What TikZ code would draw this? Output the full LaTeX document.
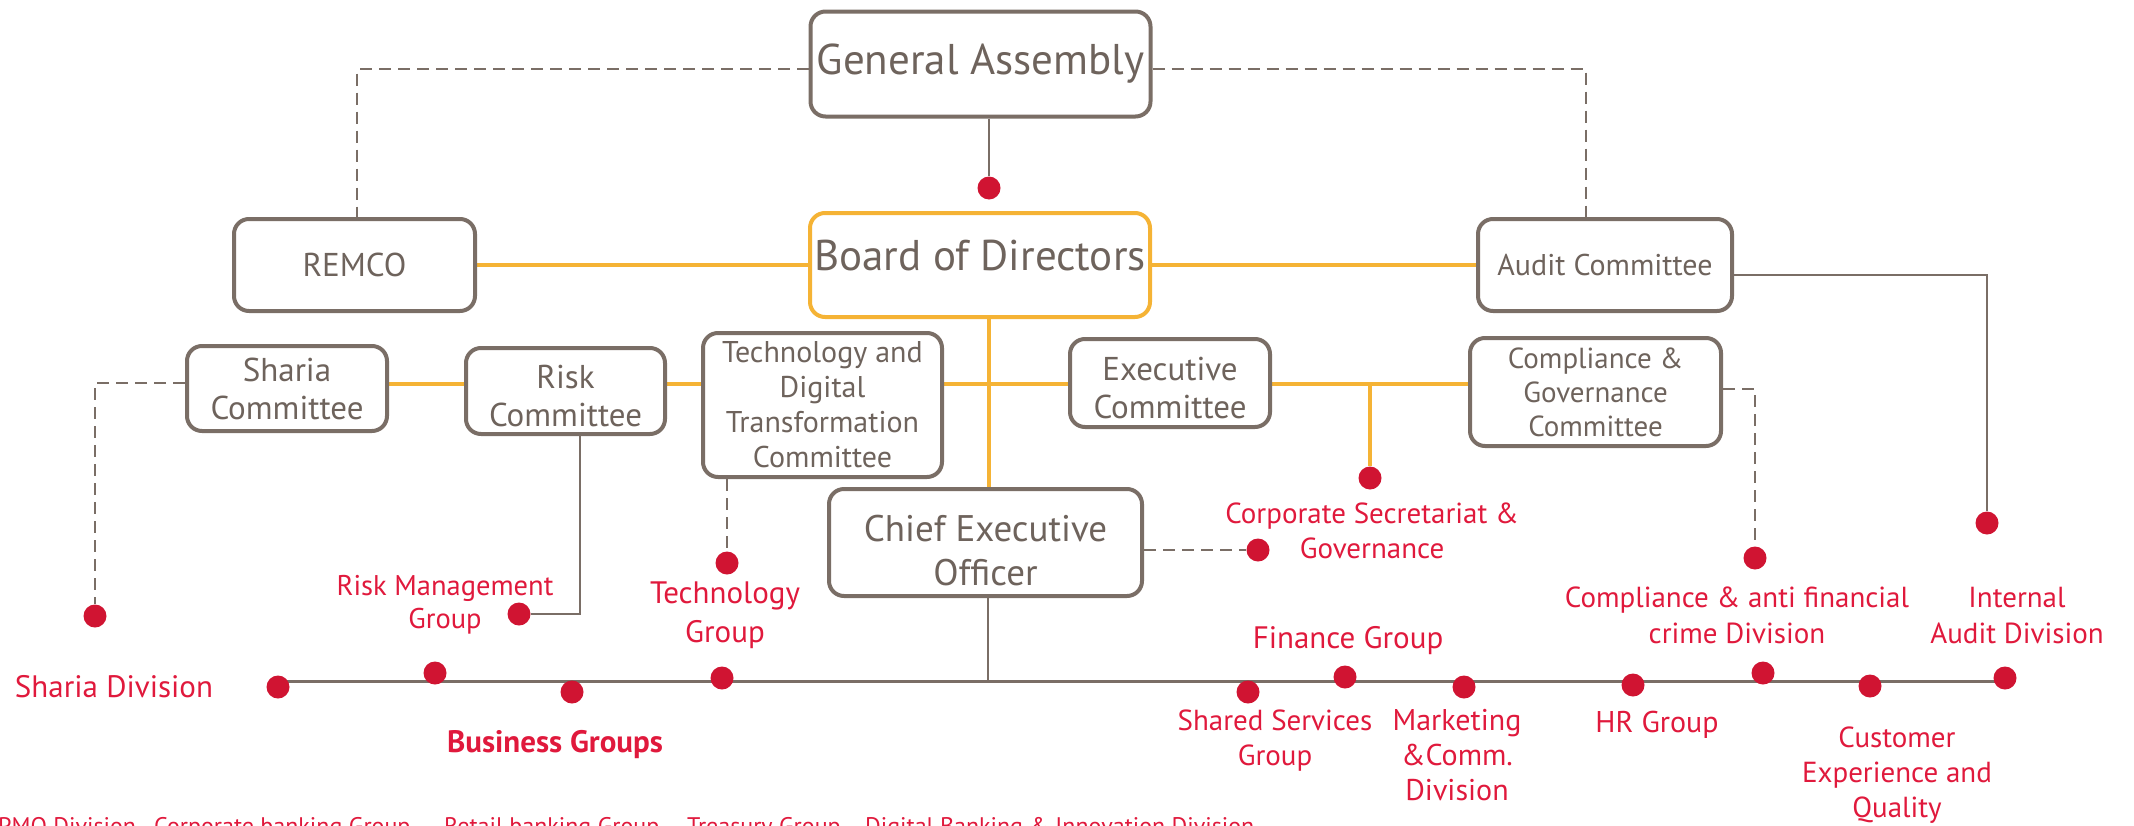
\documentclass[tikz,border=0pt]{standalone}
\usepackage{fontspec}
\setmainfont{PT Sans}
\definecolor{boxgray}{HTML}{7A6E66}
\definecolor{txtgray}{HTML}{6E635C}
\definecolor{orng}{HTML}{F5B335}
\definecolor{dotred}{HTML}{D01432}
\definecolor{lblred}{HTML}{E0193C}
\newcommand\myfs[2]{\fontsize{#1}{#2}\selectfont}
\pgfdeclarelayer{bg}
\pgfsetlayers{bg,main}
\begin{document}
\begin{tikzpicture}[x=1pt,y=-1pt,
  box/.style={draw=boxgray, fill=white, line width=4pt, rounded corners=15pt, inner sep=0pt, align=center, text=txtgray},
  obox/.style={box, draw=orng},
  dot/.style={circle, fill=dotred, inner sep=0pt, minimum size=23pt},
  lbl/.style={text=lblred, align=center, inner sep=0pt, anchor=base},
  oline/.style={draw=orng, line width=4pt},
  gline/.style={draw=boxgray, line width=2pt},
  dline/.style={draw=boxgray, line width=2.5pt, dash pattern=on 12pt off 7pt},
  mline/.style={draw=boxgray, line width=3pt},
]
\useasboundingbox (0,0) rectangle (2134,825);

% boxes
\node[box, minimum width=340pt, minimum height=105pt, font=\myfs{43}{48}] (GA) at (980.5,64) {General Assembly};
\node[obox, minimum width=340pt, minimum height=104pt, font=\myfs{43}{48}] (BoD) at (980,265) {Board of Directors\rule[-20pt]{0pt}{20pt}};
\node[box, minimum width=241pt, minimum height=92pt, font=\myfs{33}{38}] (REMCO) at (354.5,265) {REMCO};
\node[box, minimum width=254pt, minimum height=92pt, font=\myfs{30}{36}] (Audit) at (1605,265) {Audit Committee};
\node[box, minimum width=200pt, minimum height=85pt, font=\myfs{33}{38}] (Sharia) at (287,388.5) {Sharia\\Committee};
\node[box, minimum width=199pt, minimum height=86pt, font=\myfs{33}{38}] (Risk) at (565.5,391) {\rule{0pt}{33pt}Risk\\Committee};
\node[box, minimum width=239pt, minimum height=144pt, font=\myfs{30}{35}] (Tech) at (822.5,405) {Technology and\\Digital\\Transformation\\Committee};
\node[box, minimum width=200pt, minimum height=88pt, font=\myfs{33}{38}] (Exec) at (1170,383) {\rule{0pt}{33pt}Executive\\Committee};
\node[box, minimum width=251pt, minimum height=108pt, font=\myfs{29}{34}] (CG) at (1595.5,392) {Compliance \&\\Governance\\Committee};
\node[box, minimum width=313pt, minimum height=107pt, font=\myfs{37}{44}] (CEO) at (985.5,542.5) {\rule{0pt}{42pt}Chief Executive\\Officer};

% dots
\node[dot] (d0) at (989,188) {};
\node[dot] (dCS) at (1370,478) {};
\node[dot] (dSD) at (95,616) {};
\node[dot] (dRM) at (519,614) {};
\node[dot] (dTG) at (727,563) {};
\node[dot] (dCEO) at (1258,550) {};
\node[dot] (dCA) at (1755,558) {};
\node[dot] (dIA) at (1987,523) {};
\node[dot] (l1) at (278,687) {};
\node[dot] (l2) at (435,673) {};
\node[dot] (l3) at (572,692) {};
\node[dot] (l4) at (722,678) {};
\node[dot] (l5) at (1248,692) {};
\node[dot] (l6) at (1345,677) {};
\node[dot] (l7) at (1464,687) {};
\node[dot] (l8) at (1633,685) {};
\node[dot] (l9) at (1763,673) {};
\node[dot] (l10) at (1870,686) {};
\node[dot] (l11) at (2005,678) {};

\coordinate (hy) at (0,384);
\coordinate (mL) at (278,681);
\coordinate (mR) at (2005,681);
\coordinate (cs) at (1370,384);

\begin{pgfonlayer}{bg}
% dashed from General Assembly
\draw[dline] ([yshift=-5pt]GA.west) -| ([xshift=2.5pt]REMCO.north);
\draw[dline] ([yshift=-5pt]GA.east) -| ([xshift=-19pt]Audit.north);
\draw[gline] (GA.south -| d0) -- (d0);
% orange board lines
\draw[oline] (REMCO.east) -- (BoD.west);
\draw[oline] (BoD.east) -- (Audit.west);
\draw[oline] (BoD.south -| d0) -- (CEO.north -| d0);
\draw[oline] (Sharia.east |- hy) -- (Risk.west |- hy);
\draw[oline] (Risk.east |- hy) -- (Tech.west |- hy);
\draw[oline] (Tech.east |- hy) -- (Exec.west |- hy);
\draw[oline] (Exec.east |- hy) -- (CG.west |- hy);
\draw[oline] (cs) -- (dCS);
% audit to internal audit
\draw[gline] ([yshift=-10pt]Audit.east) -| (dIA);
% committees to divisions
\draw[dline] (Sharia.west |- 0,383) -| (dSD);
\draw[gline] (Risk.south -| 580,0) |- (dRM);
\draw[dline] (Tech.south -| dTG) -- (dTG);
\draw[dline] ([yshift=3pt]CG.east) -| (dCA);
\draw[dline] ([yshift=-7.5pt]CEO.east) -- (dCEO);
% CEO to main line
\draw[gline] (CEO.south -| 988,0) -- (988,681);
\draw[mline] (mL) -- (mR);
\end{pgfonlayer}

% labels (anchor = baseline of the last line)
\node[lbl, font=\myfs{31}{35}] (tSD) at (114,697) {Sharia Division};
\node[lbl, font=\myfs{28.5}{33}] (tRM) at (445,628) {Risk Management\\Group};
\node[lbl, font=\myfs{31}{39}] (tTG) at (725,642) {Technology\\Group};
\node[lbl, font=\myfs{31}{37}\bfseries] (tBG) at (555,752) {Business Groups};
\node[lbl, font=\myfs{29}{35}] (tCS) at (1372,558) {Corporate Secretariat \&\\Governance};
\node[lbl, font=\myfs{31}{35}] (tFG) at (1348,648) {Finance Group};
\node[lbl, font=\myfs{29}{35}] (tSS) at (1275,765) {Shared Services\\Group};
\node[lbl, font=\myfs{30}{35}] (tMC) at (1457,800) {Marketing\\\&Comm.\\Division};
\node[lbl, font=\myfs{30}{35}] (tHR) at (1657,732) {HR Group};
\node[lbl, font=\myfs{29}{36}] (tCA) at (1737,643) {Compliance \& anti financial\\crime Division};
\node[lbl, font=\myfs{29}{36}] (tIA) at (2017,643) {Internal\\Audit Division};
\node[lbl, font=\myfs{29}{35}] (tCX) at (1897,817) {Customer\\Experience and\\Quality};

% cut-off bottom row
\node[lbl, anchor=base west, font=\myfs{24}{30}] (b1) at (-2,834) {PMO Division};
\node[lbl, anchor=base west, font=\myfs{24}{30}] (b2) at (154,834) {Corporate banking Group};
\node[lbl, anchor=base west, font=\myfs{24}{30}] (b3) at (444,834) {Retail banking Group};
\node[lbl, anchor=base west, font=\myfs{24}{30}] (b4) at (687,834) {Treasury Group};
\node[lbl, anchor=base west, font=\myfs{24}{30}] (b5) at (865,834) {Digital Banking \& Innovation Division};
\end{tikzpicture}
\end{document}
